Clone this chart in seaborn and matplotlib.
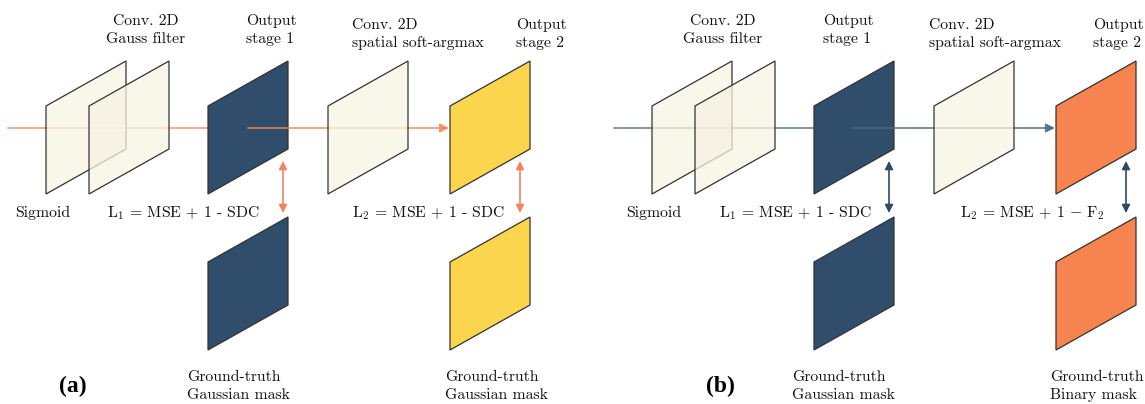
import seaborn as sns
import matplotlib.pyplot as plt
from matplotlib.patches import Polygon

# labels of the two pipelines
top_labels = ["Conv. 2D\nGauss filter", "Output\nstage 1",
              "Conv. 2D\nspatial soft-argmax", "Output\nstage 2"]
side_label = "Sigmoid"
loss1_labels = ["L$_1$ = MSE + 1 - SDC", "L$_1$ = MSE + 1 - SDC"]
loss2_labels = ["L$_2$ = MSE + 1 - SDC", "L$_2$ = MSE + 1 $-$ F$_2$"]
gt1_labels = ["Ground-truth\nGaussian mask", "Ground-truth\nGaussian mask"]
gt2_labels = ["Ground-truth\nGaussian mask", "Ground-truth\nBinary mask"]
panel_tags = ["(a)", "(b)"]

# per-panel colours
stage1_colors = ["#304d6b", "#304d6b"]
stage2_colors = ["#fbd54e", "#f7834f"]
flow_colors = ["#f4845f", "#4a6885"]
arrow_colors = ["#f4845f", "#2e4a66"]

sns.set_theme(style="white")
plt.rcParams["font.family"] = ["cmr10", "DejaVu Serif"]
plt.rcParams["mathtext.fontset"] = "cm"
plt.rcParams["axes.formatter.use_mathtext"] = True
plt.rcParams["text.color"] = "#111111"

W, SH, H = 80, 45, 88
CREAM = "#f7f3e3"
EDGE = "#333333"


def plane(ax, x0, y0, fc, alpha, z):
    pts = [(x0, y0), (x0 + W, y0 - SH), (x0 + W, y0 - SH + H), (x0, y0 + H)]
    ax.add_patch(Polygon(pts, closed=True, facecolor=fc, edgecolor="none",
                         alpha=alpha, zorder=z))
    # keep the outline crisp even on see-through planes
    ax.add_patch(Polygon(pts, closed=True, fill=False, edgecolor=EDGE,
                         lw=0.9, zorder=z))


fig = plt.figure(figsize=(11.45, 4.04), dpi=100)
ax = fig.add_axes([0, 0, 1, 1])
ax.set_xlim(0, 1145)
ax.set_ylim(404, 0)
ax.axis("off")

fs = 11.3
for i in range(2):
    dx = 606 * i          # planes shift
    tx = 577 * i          # top labels shift
    fc, ac = flow_colors[i], arrow_colors[i]

    # incoming flow, hidden behind stage-1 output
    ax.plot([8 + dx, 230 + dx], [128, 128], color=fc, lw=1.3, alpha=0.75, zorder=1)

    plane(ax, 46 + dx, 106, CREAM, 0.75, 2)
    plane(ax, 89 + dx, 106, CREAM, 0.75, 2.5)
    plane(ax, 208 + dx, 106, stage1_colors[i], 1, 3)

    # flow to stage-2 output
    ax.annotate("", xy=(449 + dx, 128), xytext=(248 + dx, 128),
                arrowprops=dict(arrowstyle="-|>", color=fc, lw=1.3,
                                mutation_scale=13, shrinkA=0, shrinkB=0,
                                alpha=0.8),
                zorder=4)
    plane(ax, 328 + dx, 106, CREAM, 0.75, 5)
    plane(ax, 450 + dx, 106, stage2_colors[i], 1, 6)

    # ground truths
    plane(ax, 208 + dx, 262, stage1_colors[i], 1, 3)
    plane(ax, 450 + dx, 262, stage2_colors[i], 1, 6)

    # loss arrows
    for x in (283 + dx, 520 + dx):
        ax.annotate("", xy=(x, 213), xytext=(x, 161),
                    arrowprops=dict(arrowstyle="<|-|>", color=ac, lw=1.2,
                                    mutation_scale=12, shrinkA=0, shrinkB=0),
                    zorder=7)

    # text
    ax.text(146 + tx, 30, top_labels[0], ha="center", va="center",
            multialignment="center", fontsize=fs, linespacing=1.35)
    ax.text(246 + tx, 30, top_labels[1], ha="left", va="center",
            fontsize=fs, linespacing=1.35)
    ax.text(352 + tx, 34, top_labels[2], ha="left", va="center",
            fontsize=fs, linespacing=1.35)
    ax.text(516 + tx, 34, top_labels[3], ha="left", va="center",
            fontsize=fs, linespacing=1.35)

    ax.text(15 + 611 * i, 213, side_label, ha="left", va="center", fontsize=fs)
    ax.text(107 + 612 * i, 213, loss1_labels[i], ha="left", va="center", fontsize=fs)
    ax.text(352 + 608 * i, 213, loss2_labels[i], ha="left", va="center", fontsize=fs)
    ax.text(187 + 605 * i, 386, gt1_labels[i], ha="left", va="center",
            fontsize=fs, linespacing=1.35)
    ax.text(445 + 605 * i, 386, gt2_labels[i], ha="left", va="center",
            fontsize=fs, linespacing=1.35)

ax.text(59, 386, panel_tags[0], ha="left", va="center", fontsize=17,
        fontweight="bold", color="black", family=["Liberation Serif", "DejaVu Serif"])
ax.text(706, 386, panel_tags[1], ha="left", va="center", fontsize=17,
        fontweight="bold", color="black", family=["Liberation Serif", "DejaVu Serif"])

fig.savefig("out.png", dpi=100)
